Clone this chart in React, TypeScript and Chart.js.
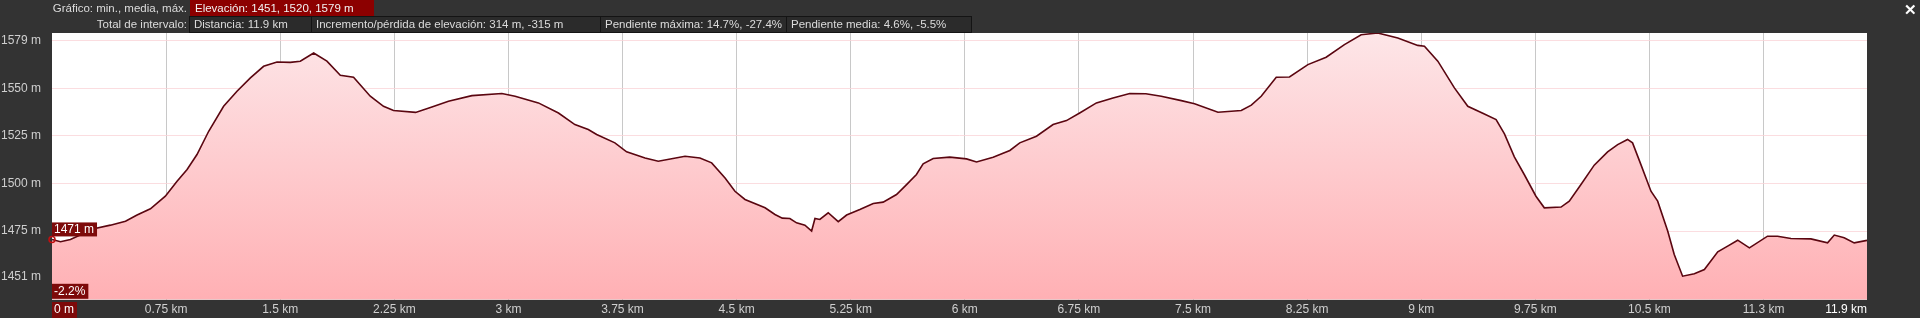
import React, { useEffect, useRef } from 'react';
import { Chart, registerables } from 'chart.js';
Chart.register(...registerables);

const distanceKm = [
  0.0, 0.056, 0.121, 0.275, 0.384, 0.483, 0.559, 0.647, 0.745, 0.822, 0.888, 0.953, 1.03, 1.128, 1.216, 1.304,
  1.391, 1.479, 1.566, 1.632, 1.72, 1.807, 1.895, 1.982, 2.092, 2.179, 2.245, 2.39, 2.497, 2.606, 2.76, 2.957,
  3.044, 3.197, 3.329, 3.437, 3.525, 3.58, 3.7, 3.777, 3.898, 3.985, 4.161, 4.259, 4.336, 4.424, 4.489, 4.555,
  4.687, 4.752, 4.8, 4.85, 4.894, 4.949, 4.993, 5.015, 5.047, 5.102, 5.168, 5.223, 5.31, 5.398, 5.463, 5.551,
  5.617, 5.682, 5.726, 5.792, 5.901, 6.011, 6.077, 6.186, 6.296, 6.361, 6.471, 6.58, 6.668, 6.755, 6.865, 6.974,
  7.084, 7.19, 7.291, 7.423, 7.51, 7.664, 7.817, 7.883, 7.948, 8.047, 8.134, 8.255, 8.375, 8.495, 8.605, 8.714,
  8.846, 8.977, 9.021, 9.109, 9.218, 9.306, 9.415, 9.492, 9.547, 9.612, 9.677, 9.754, 9.809, 9.919, 9.973, 10.05,
  10.137, 10.225, 10.291, 10.356, 10.389, 10.444, 10.51, 10.554, 10.62, 10.663, 10.718, 10.795, 10.861, 10.949,
  11.014, 11.08, 11.157, 11.276, 11.342, 11.43, 11.561, 11.671, 11.715, 11.78, 11.846, 11.93,
];

const elevationM = [
  1470.6, 1469.4, 1470.6, 1476.2, 1478.1, 1480.2, 1483.4, 1486.7, 1493.3, 1501.2, 1507.3, 1515.2, 1527.4, 1540.5, 1548.4, 1555.4,
  1561.5, 1563.8, 1563.6, 1564.2, 1568.5, 1564.2, 1556.8, 1555.8, 1545.8, 1540.5, 1538.3, 1537.3, 1540.2, 1543.2, 1546.1, 1547.2,
  1545.8, 1542.3, 1537.0, 1530.9, 1528.3, 1525.7, 1521.3, 1516.6, 1513.4, 1511.7, 1514.3, 1513.4, 1510.8, 1502.9, 1495.9, 1491.6,
  1487.2, 1483.7, 1481.8, 1481.6, 1479.3, 1478.1, 1475.0, 1481.6, 1481.1, 1484.6, 1479.9, 1483.4, 1486.3, 1489.5, 1490.2, 1494.2,
  1499.4, 1504.7, 1510.3, 1513.1, 1513.8, 1512.9, 1511.3, 1513.8, 1517.3, 1521.3, 1524.8, 1530.9, 1533.0, 1537.0, 1542.3, 1544.9,
  1547.2, 1547.1, 1545.8, 1543.5, 1541.8, 1537.4, 1538.3, 1541.1, 1545.8, 1555.8, 1555.9, 1562.4, 1566.3, 1572.9, 1578.1, 1579.0,
  1576.4, 1572.5, 1572.0, 1564.2, 1550.2, 1540.5, 1536.5, 1533.5, 1526.0, 1514.0, 1504.7, 1493.3, 1487.2, 1487.6, 1490.7, 1499.4,
  1509.6, 1516.6, 1520.4, 1523.1, 1521.3, 1509.9, 1495.9, 1490.7, 1475.0, 1462.7, 1451.3, 1452.6, 1454.8, 1464.1,
  1467.1, 1470.2, 1466.2, 1472.3, 1472.3, 1471.1, 1470.9, 1468.8, 1472.9, 1471.5, 1468.8, 1470.1,
];

const yTickValues = [1451, 1475, 1500, 1525, 1550, 1575];
const yTickLabels = ['1451 m', '1475 m', '1500 m', '1525 m', '1550 m', '1579 m'];

const xTickValues = [0, 0.75, 1.5, 2.25, 3, 3.75, 4.5, 5.25, 6, 6.75, 7.5, 8.25, 9, 9.75, 10.5, 11.25, 11.93];
const xTickLabels = [
  '0 m', '0.75 km', '1.5 km', '2.25 km', '3 km', '3.75 km', '4.5 km', '5.25 km', '6 km', '6.75 km',
  '7.5 km', '8.25 km', '9 km', '9.75 km', '10.5 km', '11.3 km', '11.9 km',
];

const headerRow1Title = 'Gráfico: min., media, máx.';
const headerRow1Box = 'Elevación: 1451, 1520, 1579 m';
const headerRow2Title = 'Total de intervalo:';
const headerRow2Boxes = [
  'Distancia: 11.9 km',
  'Incremento/pérdida de elevación: 314 m, -315 m',
  'Pendiente máxima: 14.7%, -27.4%',
  'Pendiente media: 4.6%, -5.5%',
];
const headerRow2Widths = [122, 289, 186, 181];
const startSlopeLabel = '-2.2%';

const FONT = '"Liberation Sans", Arial, sans-serif';
const BG = '#333333';
const TAG_RED = '#7d0a0a';

export default function App() {
  const canvasRef = useRef<HTMLCanvasElement | null>(null);

  useEffect(() => {
    document.body.style.margin = '0';
    document.body.style.background = BG;
    const canvas = canvasRef.current;
    if (!canvas) return;

    const bgPlugin = {
      id: 'bgPlugin',
      beforeDraw(chart: any) {
        const { ctx, chartArea } = chart;
        ctx.save();
        ctx.fillStyle = BG;
        ctx.fillRect(0, 0, chart.width, chart.height);
        ctx.fillStyle = '#ffffff';
        ctx.fillRect(chartArea.left, chartArea.top, chartArea.right - chartArea.left, chartArea.bottom - chartArea.top);
        ctx.restore();
      },
    };

    const labelPlugin = {
      id: 'labelPlugin',
      afterDraw(chart: any) {
        const { ctx, chartArea } = chart;
        const xs = chart.scales.x;
        const ys = chart.scales.y;
        ctx.save();
        ctx.font = `12px ${FONT}`;
        ctx.textBaseline = 'middle';
        const ly = 310;
        xTickValues.forEach((v, i) => {
          const px = xs.getPixelForValue(v);
          const label = xTickLabels[i];
          if (i === 0) {
            const w = ctx.measureText(label).width;
            ctx.fillStyle = TAG_RED;
            ctx.fillRect(chartArea.left, 302, w + 5, 16);
            ctx.fillStyle = '#ffffff';
            ctx.textAlign = 'left';
            ctx.fillText(label, chartArea.left + 2, ly);
          } else if (i === xTickValues.length - 1) {
            ctx.fillStyle = '#ffffff';
            ctx.textAlign = 'right';
            ctx.fillText(label, chartArea.right, ly);
          } else {
            ctx.fillStyle = '#cfcfcf';
            ctx.textAlign = 'center';
            ctx.fillText(label, px, ly);
          }
        });

        // start point marker and elevation tag
        const sx = xs.getPixelForValue(distanceKm[0]);
        const sy = ys.getPixelForValue(elevationM[0]);
        ctx.strokeStyle = '#c01010';
        ctx.lineWidth = 1.5;
        ctx.beginPath();
        ctx.arc(sx, sy, 3, 0, Math.PI * 2);
        ctx.stroke();

        const elevLabel = `${Math.round(elevationM[0])} m`;
        const ew = ctx.measureText(elevLabel).width;
        ctx.fillStyle = TAG_RED;
        ctx.fillRect(chartArea.left, sy - 17, ew + 5, 14);
        ctx.fillStyle = '#ffffff';
        ctx.textAlign = 'left';
        ctx.fillText(elevLabel, chartArea.left + 2, sy - 10);

        const sw = ctx.measureText(startSlopeLabel).width;
        ctx.fillStyle = TAG_RED;
        ctx.fillRect(chartArea.left, chartArea.bottom - 16, sw + 5, 15);
        ctx.fillStyle = '#ffffff';
        ctx.fillText(startSlopeLabel, chartArea.left + 2, chartArea.bottom - 8.5);
        ctx.restore();
      },
    };

    const chart = new Chart(canvas, {
      type: 'line',
      data: {
        datasets: [
          {
            data: distanceKm.map((d, i) => ({ x: d, y: elevationM[i] })),
            borderColor: '#5a0610',
            borderWidth: 1.6,
            pointRadius: 0,
            tension: 0,
            fill: 'start',
            backgroundColor: (c: any) => {
              const area = c.chart.chartArea;
              if (!area) return '#ffc0c4';
              const g = c.chart.ctx.createLinearGradient(0, area.top, 0, area.bottom);
              g.addColorStop(0, 'rgb(253,230,232)');
              g.addColorStop(1, 'rgb(255,176,180)');
              return g;
            },
          },
        ],
      },
      plugins: [bgPlugin, labelPlugin],
      options: {
        animation: false,
        responsive: false,
        devicePixelRatio: 1,
        layout: { padding: { top: 33, right: 53, left: 0, bottom: 0 } },
        plugins: { legend: { display: false }, tooltip: { enabled: false } },
        scales: {
          x: {
            type: 'linear',
            min: 0,
            max: 11.93,
            z: 1,
            afterBuildTicks: (s: any) => {
              s.ticks = xTickValues.map((v) => ({ value: v }));
            },
            afterFit: (s: any) => {
              s.height = 18;
            },
            ticks: { display: false },
            grid: {
              drawTicks: false,
              lineWidth: 1,
              color: (c: any) =>
                c.index === 0 || c.index === xTickValues.length - 1 ? 'rgba(0,0,0,0)' : 'rgba(110,110,110,0.38)',
            },
            border: { display: false },
          },
          y: {
            type: 'linear',
            min: 1438.9,
            max: 1579.0,
            z: 1,
            afterBuildTicks: (s: any) => {
              s.ticks = yTickValues.map((v) => ({ value: v }));
            },
            afterFit: (s: any) => {
              s.width = 52;
            },
            ticks: {
              color: '#cfcfcf',
              font: { family: FONT, size: 12 },
              padding: 11,
              callback: (_v: any, i: number) => yTickLabels[i],
            },
            grid: { drawTicks: false, color: 'rgba(250,212,216,0.8)', lineWidth: 1 },
            border: { display: false },
          },
        },
      },
    } as any);

    return () => chart.destroy();
  }, []);

  const textStyle: React.CSSProperties = {
    position: 'absolute',
    font: `11.5px ${FONT}`,
    color: '#dcdcdc',
    lineHeight: '16px',
    whiteSpace: 'nowrap',
  };

  let bx = 190;
  const boxes = headerRow2Boxes.map((t, i) => {
    const left = bx;
    bx += headerRow2Widths[i];
    return (
      <div
        key={i}
        style={{
          ...textStyle,
          left,
          top: 16,
          width: headerRow2Widths[i] - 1,
          height: 15,
          lineHeight: '15px',
          background: '#2b2b2b',
          border: '1px solid #141414',
          boxSizing: 'content-box',
          paddingLeft: 4,
          marginLeft: -1,
          overflow: 'hidden',
        }}
      >
        {t}
      </div>
    );
  });

  return (
    <div style={{ position: 'relative', width: 1920, height: 318, background: BG, overflow: 'hidden' }}>
      <canvas ref={canvasRef} width={1920} height={318} style={{ position: 'absolute', left: 0, top: 0, width: 1920, height: 318 }} />
      <div style={{ ...textStyle, right: 1920 - 187, top: 0 }}>{headerRow1Title}</div>
      <div
        style={{
          ...textStyle,
          left: 190,
          top: 0,
          width: 184,
          height: 16,
          background: '#8c0000',
          color: '#f2f2f2',
          paddingLeft: 5,
          boxSizing: 'border-box',
        }}
      >
        {headerRow1Box}
      </div>
      <div style={{ ...textStyle, right: 1920 - 187, top: 16 }}>{headerRow2Title}</div>
      {boxes}
      <div style={{ position: 'absolute', left: 1904, top: 1, color: '#ffffff', font: `bold 15px ${FONT}` }}>✕</div>
    </div>
  );
}
